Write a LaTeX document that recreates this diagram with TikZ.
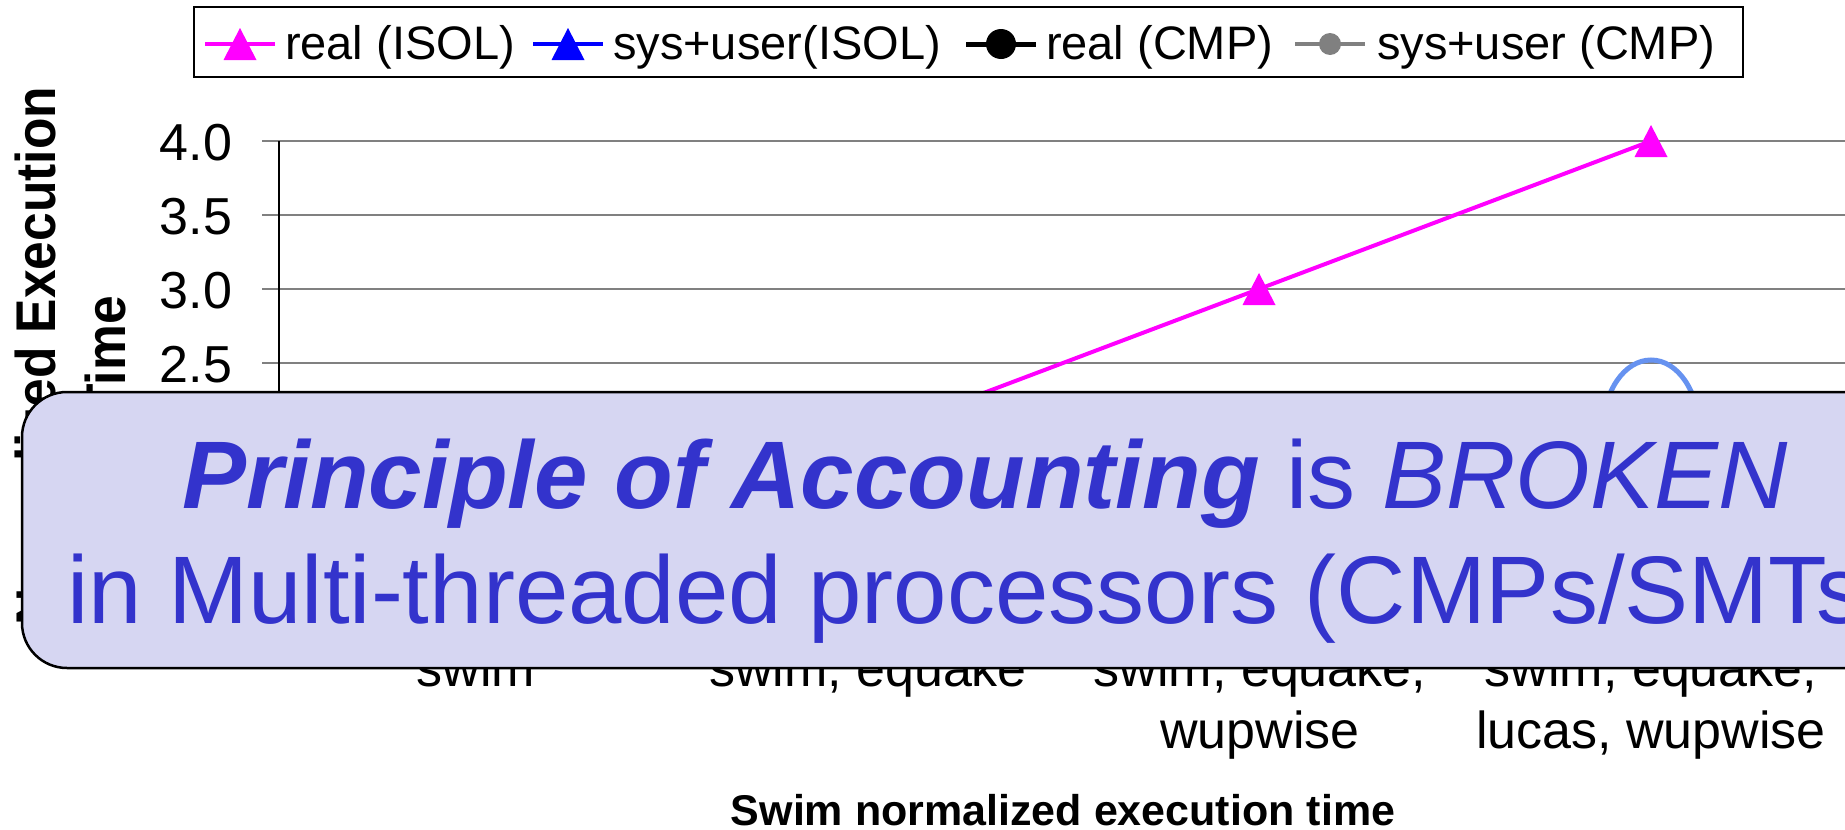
\documentclass[tikz,border=0pt]{standalone}
\usepackage{fontspec}
\setmainfont{Liberation Sans}
\usetikzlibrary{calc}
\definecolor{boxfill}{RGB}{214,214,242}
\definecolor{msgblue}{RGB}{51,51,204}
\definecolor{ringblue}{RGB}{102,146,240}
\definecolor{gridgray}{RGB}{128,128,128}
\definecolor{seriepink}{RGB}{255,0,255}
\definecolor{serieblue}{RGB}{0,0,255}
\definecolor{seriegray}{RGB}{128,128,128}

\tikzset{
  txt/.style={inner sep=0pt, outer sep=0pt},
  legtext/.style={txt, anchor=base west, font=\fontsize{47}{56}\selectfont},
  ticklabel/.style={txt, anchor=base east, font=\fontsize{52}{62}\selectfont},
  catlabel/.style={txt, anchor=base, font=\fontsize{52}{62}\selectfont},
  axtitle/.style={txt, anchor=base, font=\bfseries\fontsize{43}{52}\selectfont},
  ylabel/.style={txt, anchor=base, rotate=90, xscale=0.92, font=\bfseries\fontsize{56}{66}\selectfont},
  msgline/.style={txt, anchor=base, text=msgblue, font=\fontsize{96}{115}\selectfont},
  gridline/.style={draw=gridgray, line width=2pt},
  serieline/.style={line width=4pt},
}

\begin{document}
\begin{tikzpicture}[x=1pt,y=-1pt]
\useasboundingbox (0,0) rectangle (1845,830);
\clip (0,0) rectangle (1845,830);
\fill[white] (0,0) rectangle (1845,830);

% ---- legend ----
\node[draw=black, line width=2pt, txt, anchor=north west,
      minimum width=1549pt, minimum height=70pt] (legend) at (194,7) {};
% real (ISOL)
\coordinate (k1a) at (205,44); \coordinate (k1b) at (275,44); \coordinate (k1) at (240,44);
\draw[seriepink, serieline] (k1a) -- (k1b);
\fill[seriepink] (k1) ++(-16.5,16) -- ++(16.5,-32) -- ++(16.5,32) -- cycle;
\node[legtext] (l1) at (285,59) {real (ISOL)};
% sys+user(ISOL)
\coordinate (k2a) at (533,44); \coordinate (k2b) at (603,44); \coordinate (k2) at (568,44);
\draw[serieblue, serieline] (k2a) -- (k2b);
\fill[serieblue] (k2) ++(-16.5,16) -- ++(16.5,-32) -- ++(16.5,32) -- cycle;
\node[legtext] (l2) at (613,59) {sys+user(ISOL)};
% real (CMP)
\coordinate (k3a) at (966,44); \coordinate (k3b) at (1036,44); \coordinate (k3) at (1001,44);
\draw[black, line width=5pt] (k3a) -- (k3b);
\fill[black] (k3) circle [radius=15];
\node[legtext] (l3) at (1046,59) {real (CMP)};
% sys+user (CMP)
\coordinate (k4a) at (1295,44); \coordinate (k4b) at (1365,44); \coordinate (k4) at (1330,44);
\draw[seriegray, serieline] (k4a) -- (k4b);
\fill[seriegray] (k4) circle [radius=11];
\node[legtext] (l4) at (1377,59) {sys+user (CMP)};

% ---- grid and value axis ----
\foreach \yy in {141,215,289,363,437,511} {
  \draw[gridline] (262,\yy) -- (1845,\yy);
}
\draw[black, line width=1.5pt] (279,141) -- (279,585);
\node[ticklabel] (v40) at (232,160) {4.0};
\node[ticklabel] (v35) at (232,234) {3.5};
\node[ticklabel] (v30) at (232,308) {3.0};
\node[ticklabel] (v25) at (232,382) {2.5};

% ---- value axis title ----
\node[ylabel] (ytitle1) at (55,356) {Normalized Execution};
\node[ylabel] (ytitle2) at (125,356) {Time};

% ---- data series ----
\coordinate (p2) at (867,437);
\coordinate (p3) at (1259,289);
\coordinate (p4) at (1651,141);
\draw[seriepink, serieline] (p2) -- (p3) -- (p4);
\fill[seriepink] (p3) ++(-16.5,16) -- ++(16.5,-32) -- ++(16.5,32) -- cycle;
\fill[seriepink] (p4) ++(-16.5,16) -- ++(16.5,-32) -- ++(16.5,32) -- cycle;

% highlight ring
\draw[ringblue, line width=5pt] (1651,430) ellipse [x radius=48, y radius=70];

% ---- category labels ----
\node[catlabel] (c1) at (476,686) {swim};
\node[catlabel] (c2) at (868,686) {swim, equake};
\node[catlabel] (c3a) at (1260,686) {swim, equake,};
\node[catlabel] (c3b) at (1260,748) {wupwise};
\node[catlabel] (c4a) at (1651,686) {swim, equake,};
\node[catlabel] (c4b) at (1651,748) {lucas, wupwise};

\node[axtitle] (xtitle) at (1063,825) {Swim normalized execution time};

% ---- message box ----
\node[draw=black, line width=2.5pt, fill=boxfill, rounded corners=45pt, txt,
      anchor=north west, minimum width=1940pt, minimum height=276pt] (note) at (22,392) {};
\node[msgline] (msg1) at (985,508)
  {{\bfseries\itshape Principle of Accounting} is {\itshape BROKEN}};
\node[msgline] (msg2) at (982,623) {in Multi-threaded processors (CMPs/SMTs)};
\end{tikzpicture}
\end{document}
